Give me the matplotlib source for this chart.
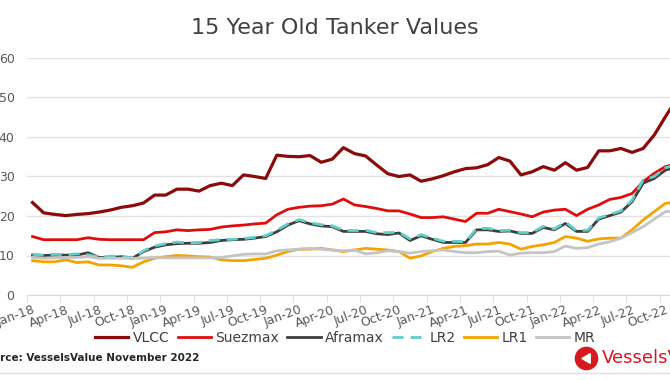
import matplotlib
matplotlib.use("Agg")
import matplotlib.pyplot as plt
from matplotlib.lines import Line2D
import numpy as np
import pandas as pd

# monthly values, Jan-18 .. Nov-22 (USD m)
months = pd.date_range("2018-01-01", periods=59, freq="MS").strftime("%b-%y").tolist()

vlcc = [23.4, 20.8, 20.4, 20.1, 20.4, 20.6, 21.0, 21.5, 22.2, 22.6,
        23.3, 25.3, 25.3, 26.8, 26.8, 26.3, 27.7, 28.3, 27.7, 30.4,
        30.0, 29.5, 35.4, 35.1, 35.0, 35.3, 33.6, 34.4, 37.3, 35.8,
        35.2, 32.9, 30.7, 30.0, 30.4, 28.8, 29.4, 30.2, 31.2, 32.0,
        32.2, 33.0, 34.8, 33.9, 30.4, 31.2, 32.5, 31.6, 33.5, 31.6,
        32.3, 36.5, 36.5, 37.1, 36.1, 37.1, 40.5, 45.1, 49.5]
suezmax = [14.8, 14.0, 14.0, 14.0, 14.0, 14.5, 14.1, 14.0, 14.0, 14.0,
           14.0, 15.8, 16.0, 16.5, 16.3, 16.5, 16.6, 17.2, 17.5, 17.7,
           18.0, 18.2, 20.3, 21.7, 22.2, 22.5, 22.6, 23.0, 24.3, 22.8,
           22.4, 21.9, 21.3, 21.3, 20.5, 19.6, 19.6, 19.8, 19.2, 18.6,
           20.7, 20.7, 21.7, 21.1, 20.5, 19.8, 21.0, 21.5, 21.7, 20.1,
           21.7, 22.8, 24.2, 24.7, 25.7, 28.7, 30.8, 32.5, 33.2]
aframax = [10.1, 10.0, 10.1, 10.1, 10.1, 10.7, 9.5, 9.5, 9.7, 9.3,
           11.0, 12.1, 12.7, 13.0, 13.1, 13.1, 13.3, 13.8, 14.0, 14.1,
           14.4, 14.8, 16.0, 17.7, 18.8, 18.0, 17.5, 17.3, 16.1, 16.1,
           16.1, 15.5, 15.3, 15.7, 13.8, 15.0, 14.1, 13.3, 13.3, 13.3,
           16.5, 16.5, 16.1, 16.2, 15.6, 15.6, 17.1, 16.5, 18.1, 16.1,
           16.1, 19.2, 20.1, 21.0, 23.6, 28.3, 29.5, 31.6, 32.5]
lr2 = [10.3, 10.1, 10.3, 10.2, 10.4, 10.2, 9.6, 9.8, 9.9, 9.3,
       11.2, 12.4, 13.0, 13.4, 13.2, 13.3, 13.8, 14.0, 14.1, 14.3,
       14.6, 15.0, 16.4, 18.0, 19.1, 18.3, 17.8, 17.5, 16.4, 16.3,
       16.4, 15.8, 15.8, 15.9, 14.2, 15.3, 14.4, 13.6, 13.6, 13.5,
       16.8, 16.9, 16.3, 16.4, 15.8, 15.8, 17.4, 16.7, 18.5, 16.3,
       16.4, 19.5, 20.4, 21.3, 24.0, 29.1, 30.0, 32.2, 33.0]
lr1 = [8.7, 8.4, 8.4, 8.9, 8.2, 8.4, 7.6, 7.6, 7.4, 7.0,
       8.4, 9.3, 9.7, 10.0, 9.9, 9.7, 9.6, 8.9, 8.7, 8.7,
       9.0, 9.3, 10.1, 11.0, 11.6, 11.6, 11.8, 11.4, 11.0, 11.4,
       11.8, 11.6, 11.4, 11.0, 9.3, 9.9, 11.0, 11.8, 12.3, 12.5,
       12.9, 12.9, 13.3, 12.9, 11.6, 12.3, 12.7, 13.3, 14.8, 14.4,
       13.6, 14.2, 14.4, 14.4, 16.5, 19.0, 21.1, 23.2, 23.6]
mr = [9.5, 9.3, 9.4, 9.5, 9.5, 9.7, 9.3, 9.3, 9.3, 9.3,
      9.3, 9.5, 9.4, 9.4, 9.4, 9.4, 9.4, 9.5, 9.9, 10.3,
      10.4, 10.4, 11.2, 11.4, 11.6, 11.8, 11.6, 11.4, 11.2, 11.4,
      10.4, 10.7, 11.2, 11.0, 10.6, 11.0, 11.2, 11.4, 11.0, 10.7,
      10.7, 11.0, 11.1, 10.1, 10.6, 10.7, 10.7, 11.0, 12.4, 11.8,
      12.0, 12.9, 13.5, 14.4, 15.8, 17.3, 19.2, 21.1, 21.3]

plt.rcParams['font.family'] = ['DejaVu Sans']
txt = '#404040'

fig = plt.figure(figsize=(6.7, 3.8), dpi=100)
# axes run past the right edge, like the cropped original
ax = fig.add_axes([27/670, 85/380, 655/670, 237/380])

x = np.arange(len(months))
ax.plot(x, vlcc, color='#8b0a0a', lw=2.3, label='VLCC')
ax.plot(x, suezmax, color='#e00d0d', lw=2.0, label='Suezmax')
ax.plot(x, aframax, color='#3f3f3f', lw=2.0, label='Aframax')
ax.plot(x, lr2, color='#5fd0c8', lw=2.0, dashes=(4, 2.5), label='LR2')
ax.plot(x, lr1, color='#f5a300', lw=2.0, label='LR1')
ax.plot(x, mr, color='#c4c4c4', lw=2.0, label='MR')

ax.set_xlim(-0.5, len(months) - 0.5)
ax.set_ylim(0, 60)
ax.set_yticks(range(0, 61, 10))
ax.yaxis.grid(True, color='#e3e3e3', lw=1)
ax.set_axisbelow(True)
for s in ['left', 'right', 'top']:
    ax.spines[s].set_visible(False)
ax.spines['bottom'].set_color('#d9d9d9')
ax.tick_params(axis='y', length=0, pad=9, labelsize=9, labelcolor='#595959')

# labels every 3 months, tick marks on category boundaries
ax.set_xticks(x[::3])
ax.set_xticklabels(months[::3], rotation=20, ha='right', rotation_mode='anchor')
ax.tick_params(axis='x', which='major', length=0, pad=6, labelsize=9, labelcolor='#595959')
ax.set_xticks(np.arange(-0.5, len(months), 3), minor=True)
ax.tick_params(axis='x', which='minor', length=5, color='#d9d9d9')

fig.text(0.5, 1 - 28/380, '15 Year Old Tanker Values', ha='center', va='center',
         fontsize=16, color=txt)

fig.legend(loc='center', bbox_to_anchor=(345/670, 1 - 338/380), ncol=6, frameon=False,
           fontsize=10, handlelength=2.4, columnspacing=0.6, handletextpad=0.3,
           labelcolor=txt)

fig.text(-22/670, 1 - 358/380, 'Source: VesselsValue November 2022', ha='left', va='center',
         fontsize=7.5, fontweight='bold', color='#262626')

# VesselsValue logo (cut at right edge)
fig.add_artist(Line2D([586/670], [1 - 358/380], marker='o', markersize=16,
                      color='#d71920', transform=fig.transFigure))
fig.add_artist(Line2D([587/670], [1 - 358/380], marker=(3, 0, -30), markersize=8,
                      color='white', transform=fig.transFigure))
fig.text(602/670, 1 - 358/380, 'VesselsValue', ha='left', va='center',
         fontsize=13, color='#d71920')

fig.add_artist(Line2D([0, 1], [1 - 373/380, 1 - 373/380], color='#e0e0e0', lw=1,
                      transform=fig.transFigure))

fig.savefig('out.png', dpi=100)
